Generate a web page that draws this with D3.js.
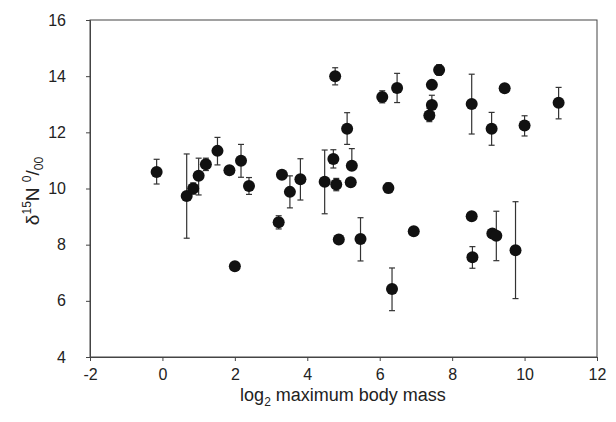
<!DOCTYPE html>
<html><head><meta charset="utf-8">
<script src="https://cdn.jsdelivr.net/npm/d3@7/dist/d3.min.js"></script>
<style>body{margin:0;background:#fff}svg{display:block}text{font-family:"Liberation Sans",Arial,sans-serif;fill:#222}</style>
</head><body>
<script>
// data: x = log2 max body mass, y = delta15N, lo/hi = error bar ends (null = none)
const xs  = [-0.16, 0.67, 0.85, 1.0, 1.2, 1.52, 1.85, 2.17, 2.39, 2.0,
             3.3, 3.52, 3.81, 4.48, 4.72, 4.77, 4.8, 5.1, 5.23, 5.2, 6.07, 6.48, 6.24,
             3.21, 4.87, 5.47, 6.34, 6.94,
             7.64, 7.44, 7.44, 7.37, 8.54, 9.09, 9.45, 10.0, 10.94,
             8.54, 8.56, 9.11, 9.22, 9.75];
const ys  = [10.59, 9.73, 10.0, 10.45, 10.86, 11.34, 10.65, 10.99, 10.09, 7.23,
             10.49, 9.88, 10.33, 10.24, 11.05, 14.0, 10.14, 12.13, 10.81, 10.22, 13.26, 13.58, 10.02,
             8.8, 8.18, 8.2, 6.42, 8.48,
             14.22, 13.69, 12.97, 12.6, 13.01, 12.13, 13.57, 12.24, 13.05,
             9.01, 7.55, 8.4, 8.32, 7.8];
const errLo = [10.16, 8.23, 9.8, 9.77, 10.64, 10.84, null, 10.4, 9.79, null,
               null, 9.31, 9.59, 9.1, 10.73, 13.69, 9.92, 11.57, 10.81, null, 13.05, 13.06, 9.85,
               8.56, null, 7.42, 5.65, null,
               14.03, null, 12.7, 12.38, 11.94, 11.54, null, 11.87, 12.48,
               null, 7.16, null, 7.43, 6.08];
const errHi = [11.04, 11.23, 10.2, 11.08, 11.08, 11.82, null, 11.57, 10.39, null,
               null, 10.45, 11.06, 11.37, 11.38, 14.3, 10.36, 12.7, 11.42, null, 13.48, 14.1, 10.2,
               9.03, null, 8.96, 7.17, null,
               14.41, null, 13.32, 12.86, 14.07, 12.71, null, 12.59, 13.6,
               null, 7.93, null, 9.19, 9.53];
const xTicks = [-2, 0, 2, 4, 6, 8, 10, 12];
const yTicks = [4, 6, 8, 10, 12, 14, 16];

const W = 616, H = 422;
const svg = d3.select("body").append("svg").attr("width", W).attr("height", H);
const x = d3.scaleLinear().domain([-2, 12]).range([90, 597]);
const y = d3.scaleLinear().domain([4, 16]).range([357, 20]);

const axisColor = "#444";
// frame
svg.append("rect").attr("x", 90).attr("y", 20).attr("width", 507).attr("height", 337)
  .attr("fill", "none").attr("stroke", axisColor).attr("stroke-width", 1);

const gx = svg.append("g").attr("transform", "translate(0,357)")
  .call(d3.axisBottom(x).tickValues(xTicks).tickSize(4).tickPadding(8).tickFormat(d => String(d)));
const gy = svg.append("g").attr("transform", "translate(90,0)")
  .call(d3.axisLeft(y).tickValues(yTicks).tickSize(4).tickPadding(20).tickFormat(d => String(d)));
[gx, gy].forEach(g => {
  g.select(".domain").attr("stroke", axisColor);
  g.selectAll(".tick line").attr("stroke", axisColor);
  g.selectAll(".tick text").attr("font-size", 16).attr("fill", "#222")
   .attr("font-family", "Liberation Sans, Arial, sans-serif");
});

// error bars
const eb = svg.append("g").attr("stroke", "#333").attr("stroke-width", 1.2);
xs.forEach((xv, i) => {
  if (errLo[i] === null) return;
  const cx = x(xv);
  eb.append("line").attr("x1", cx).attr("x2", cx).attr("y1", y(errLo[i])).attr("y2", y(errHi[i]));
  eb.append("line").attr("x1", cx - 3).attr("x2", cx + 3).attr("y1", y(errLo[i])).attr("y2", y(errLo[i]));
  eb.append("line").attr("x1", cx - 3).attr("x2", cx + 3).attr("y1", y(errHi[i])).attr("y2", y(errHi[i]));
});

// points
svg.append("g").selectAll("circle").data(xs).join("circle")
  .attr("cx", d => x(d)).attr("cy", (d, i) => y(ys[i])).attr("r", 6).attr("fill", "#111");

// x title
const xt = svg.append("text").attr("x", 343).attr("y", 401).attr("text-anchor", "middle").attr("font-size", 18);
xt.append("tspan").text("log");
xt.append("tspan").attr("font-size", 12).attr("dy", 5).text("2");
xt.append("tspan").attr("dy", -5).text(" maximum body mass");

// y title
const yt = svg.append("text").attr("transform", "translate(39,191) rotate(-90)")
  .attr("text-anchor", "middle").attr("font-size", 19);
yt.append("tspan").text("δ");
yt.append("tspan").attr("font-size", 12).attr("dy", -8).text("15");
yt.append("tspan").attr("dy", 8).text("N ");
yt.append("tspan").attr("font-size", 12).attr("dy", -8).text("0");
yt.append("tspan").attr("dy", 8).text("/");
yt.append("tspan").attr("font-size", 12).attr("dy", 4).text("00");
</script>
</body></html>
